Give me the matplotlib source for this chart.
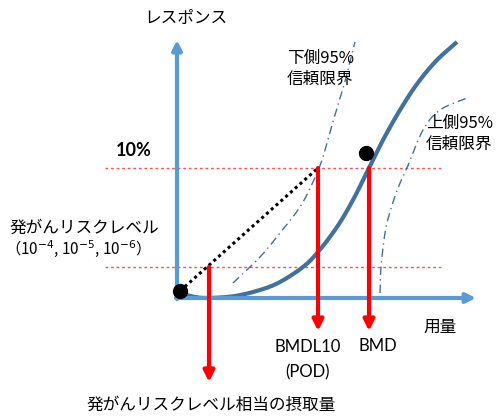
import matplotlib
matplotlib.use("Agg")
import matplotlib.pyplot as plt
import numpy as np

plt.rcParams['font.family'] = ['Noto Sans CJK JP', 'DejaVu Sans']

# Schematic drawn in a pixel-like coordinate frame (y grows downward)
W, H = 501, 419

# Axes of the schematic
origin = (177, 298)
y_axis_top = 40
x_axis_end = 476

# Dose-response curve (fitted model)
curve_x = [180, 195, 210, 235, 260, 280, 303, 318, 337, 353, 369, 383, 400,
           417, 436, 457]
curve_y = [293, 297, 298, 296, 290, 282, 267, 252, 227, 200, 168, 140, 110,
           84, 61, 42]

# Lower 95% confidence limit
lower_x = [233, 260, 280, 300, 313, 322, 332, 344, 355]
lower_y = [283, 257, 233, 207, 182, 160, 125, 85, 42]

# Upper 95% confidence limit
upper_x = [380, 381, 385, 390, 398, 407, 423, 440, 467]
upper_y = [293, 267, 233, 212, 188, 168, 130, 110, 98]

# Response levels: 10% benchmark response and cancer risk level
bmr_y = 168
risk_y = 267
guide_x = (105, 441)

# Observed points
points_x = [180, 366]
points_y = [291, 153]

# Dose marks (arrows down from the response levels)
risk_dose_x, risk_dose_tip = 209, 382
bmdl_x, bmdl_tip = 318, 331
bmd_x, bmd_tip = 369, 331


def smooth(xs, ys, n=20):
    """Catmull-Rom spline through the given knots."""
    p = np.column_stack([xs, ys]).astype(float)
    p = np.vstack([2 * p[0] - p[1], p, 2 * p[-1] - p[-2]])
    out = []
    t = np.linspace(0, 1, n, endpoint=False)[:, None]
    for i in range(1, len(p) - 2):
        p0, p1, p2, p3 = p[i - 1], p[i], p[i + 1], p[i + 2]
        seg = 0.5 * ((2 * p1) + (-p0 + p2) * t
                     + (2 * p0 - 5 * p1 + 4 * p2 - p3) * t ** 2
                     + (-p0 + 3 * p1 - 3 * p2 + p3) * t ** 3)
        out.append(seg)
    out.append(p[-2][None, :])
    out = np.vstack(out)
    return out[:, 0], out[:, 1]


fig = plt.figure(figsize=(W / 100, H / 100), dpi=100)
ax = fig.add_axes([0, 0, 1, 1])
ax.set_xlim(0, W)
ax.set_ylim(H, 0)
ax.axis('off')

axis_color = '#5B9BD5'
curve_color = '#41719C'

# Axes arrows
ax.annotate('', xy=(origin[0], y_axis_top), xytext=(origin[0], origin[1] + 1),
            arrowprops=dict(arrowstyle='-|>', color=axis_color, lw=3,
                            mutation_scale=14, shrinkA=0, shrinkB=0))
ax.annotate('', xy=(x_axis_end, origin[1]), xytext=(origin[0] - 1, origin[1]),
            arrowprops=dict(arrowstyle='-|>', color=axis_color, lw=3,
                            mutation_scale=14, shrinkA=0, shrinkB=0))

# Guide lines
ax.plot(guide_x, [bmr_y, bmr_y], color='#FF5050', lw=1, ls=(0, (2, 2)))
ax.plot(guide_x, [risk_y, risk_y], color='#FF5050', lw=1, ls=(0, (2, 2)))

# Confidence limits
ax.plot(*smooth(lower_x, lower_y), color=curve_color, lw=1,
        ls=(0, (6, 3, 1, 3)))
ax.plot(*smooth(upper_x, upper_y), color=curve_color, lw=1,
        ls=(0, (6, 3, 1, 3)))

# Fitted curve
ax.plot(*smooth(curve_x, curve_y), color=curve_color, lw=3,
        solid_capstyle='butt')

# Linear extrapolation from the origin to the BMDL
ax.plot([points_x[0], bmdl_x], [points_y[0], bmr_y], color='black', lw=2.2,
        ls=(0, (1, 1.1)))

# Points
ax.scatter(points_x, points_y, s=100, color='black', zorder=5)

# Red dose arrows
for x0, y0, y1 in [(risk_dose_x, risk_y, risk_dose_tip),
                   (bmdl_x, bmr_y, bmdl_tip),
                   (bmd_x, bmr_y, bmd_tip)]:
    ax.annotate('', xy=(x0, y1), xytext=(x0, y0),
                arrowprops=dict(arrowstyle='-|>', color='red', lw=3,
                                mutation_scale=16, shrinkA=0, shrinkB=0),
                zorder=4)

fs = 12
latin = ['Lato', 'Noto Sans CJK JP']
ax.text(186, 18, 'レスポンス', fontsize=fs, ha='center', va='center')
ax.text(287, 58, '下側95%', fontsize=fs, ha='left', va='center')
ax.text(287, 79, '信頼限界', fontsize=fs, ha='left', va='center')
ax.text(426, 123, '上側95%', fontsize=fs, ha='left', va='center')
ax.text(426, 144, '信頼限界', fontsize=fs, ha='left', va='center')
ax.text(134, 150, '10%', fontsize=13, ha='center', va='center',
        fontweight='bold', family=latin)
ax.text(9, 228, '発がんリスクレベル', fontsize=fs, ha='left', va='center')
ax.text(5, 249, '（10$^{-4}$, 10$^{-5}$, 10$^{-6}$）', fontsize=11,
        ha='left', va='center')
ax.text(440, 327, '用量', fontsize=fs, ha='center', va='center')
ax.text(308, 347, 'BMDL10', fontsize=fs, ha='center', va='center',
        family=latin)
ax.text(308, 372, '(POD)', fontsize=fs, ha='center', va='center',
        family=latin)
ax.text(378, 346, 'BMD', fontsize=fs, ha='center', va='center',
        family=latin)
ax.text(211, 405, '発がんリスクレベル相当の摂取量', fontsize=fs,
        ha='center', va='center')

fig.savefig('out.png', dpi=100)
